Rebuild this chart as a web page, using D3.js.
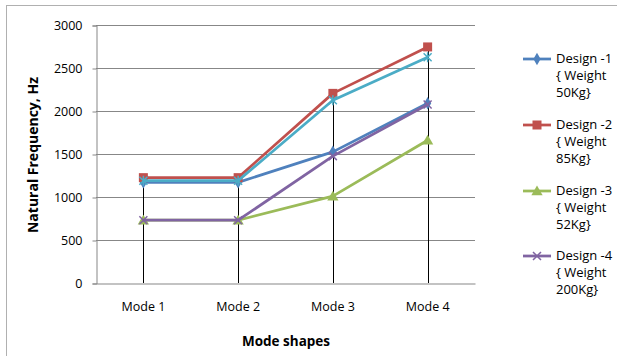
<!DOCTYPE html>
<meta charset="utf-8">
<script src="https://d3js.org/d3.v7.min.js"></script>
<style>
  body { margin: 0; background: #fff; }
  text { font-family: "Open Sans", sans-serif; fill: #000; }
</style>
<div id="chart"></div>
<script>
    const modes = ["Mode 1", "Mode 2", "Mode 3", "Mode 4"];
    const design1 = [1170, 1170, 1525, 2090];
    const design2 = [1225, 1225, 2205, 2745];
    const design3 = [730, 730, 1010, 1660];
    const design4 = [730, 730, 1475, 2075];
    const design5 = [1190, 1190, 2125, 2625];
    const yTicks = [0, 500, 1000, 1500, 2000, 2500, 3000];
    const legendLabels = [
        ["Design -1", "{ Weight", "50Kg}"],
        ["Design -2", "{ Weight", "85Kg}"],
        ["Design -3", "{ Weight", "52Kg}"],
        ["Design -4", "{ Weight", "200Kg}"]
    ];

    const series = [
        {values: design1, color: "#4F81BD", marker: "diamond"},
        {values: design2, color: "#C0504D", marker: "square"},
        {values: design3, color: "#9BBB59", marker: "triangle"},
        {values: design4, color: "#8064A2", marker: "x"},
        {values: design5, color: "#4BACC6", marker: "star"}
    ];

    const W = 617, H = 356;
    const plot = {left: 96, right: 475, top: 25, bottom: 283};

    const svg = d3.select("#chart").append("svg")
        .attr("width", W).attr("height", H);

    // outer chart border
    svg.append("rect")
        .attr("x", 6.5).attr("y", 5.5)
        .attr("width", 640).attr("height", 400)
        .attr("fill", "none").attr("stroke", "#b0b0b0");

    const x = d3.scaleBand().domain(modes).range([plot.left, plot.right]);
    const y = d3.scaleLinear().domain([0, 3000]).range([plot.bottom, plot.top]);

    // gridlines
    svg.append("g").selectAll("line").data(yTicks.slice(1)).join("line")
        .attr("x1", plot.left).attr("x2", plot.right)
        .attr("y1", d => Math.round(y(d)) + 0.5).attr("y2", d => Math.round(y(d)) + 0.5)
        .attr("stroke", "#878787");

    // y axis
    const yAxis = svg.append("g")
        .attr("transform", `translate(${plot.left + 0.5},0.5)`)
        .call(d3.axisLeft(y).tickValues(yTicks).tickFormat(d3.format("d")).tickSize(4).tickPadding(10));
    yAxis.select(".domain").attr("stroke", "#878787");
    yAxis.selectAll(".tick line").attr("stroke", "#878787");
    yAxis.selectAll("text").style("font-size", "12.5px").style("font-family", "Open Sans");

    // x axis
    const xAxis = svg.append("g")
        .attr("transform", `translate(0,${plot.bottom + 0.5})`)
        .call(d3.axisBottom(x).tickSize(0).tickPadding(19));
    xAxis.select(".domain").attr("stroke", "#878787");
    xAxis.selectAll("text").style("font-size", "12.5px").style("font-family", "Open Sans");

    const cx = d => x(d) + x.bandwidth() / 2;

    // drop lines
    svg.append("g").selectAll("line").data(modes).join("line")
        .attr("x1", d => Math.round(cx(d)) + 0.5).attr("x2", d => Math.round(cx(d)) + 0.5)
        .attr("y1", (d, i) => y(d3.max(series, s => s.values[i])))
        .attr("y2", plot.bottom)
        .attr("stroke", "#000").attr("stroke-width", 1);

    const line = d3.line().x((d, i) => cx(modes[i])).y(d => y(d));

    function drawMarker(g, type, color, px, py) {
        if (type === "diamond") {
            g.append("path").attr("d", d3.symbol(d3.symbolDiamond, 45)())
                .attr("transform", `translate(${px},${py})`).attr("fill", color);
        } else if (type === "square") {
            g.append("rect").attr("x", px - 4.5).attr("y", py - 4.5)
                .attr("width", 9).attr("height", 9).attr("fill", color);
        } else if (type === "triangle") {
            g.append("path").attr("d", d3.symbol(d3.symbolTriangle, 55)())
                .attr("transform", `translate(${px},${py + 1})`).attr("fill", color);
        } else if (type === "x") {
            g.append("path").attr("d", `M${px - 4},${py - 4}L${px + 4},${py + 4}M${px - 4},${py + 4}L${px + 4},${py - 4}`)
                .attr("stroke", color).attr("stroke-width", 1.5);
        } else if (type === "star") {
            g.append("path").attr("d", `M${px - 4},${py - 4}L${px + 4},${py + 4}M${px - 4},${py + 4}L${px + 4},${py - 4}M${px},${py - 5}L${px},${py + 5}`)
                .attr("stroke", color).attr("stroke-width", 1.5);
        }
    }

    series.forEach(s => {
        const g = svg.append("g");
        g.append("path").datum(s.values)
            .attr("d", line).attr("fill", "none")
            .attr("stroke", s.color).attr("stroke-width", 2.75)
            .attr("stroke-linejoin", "round");
        s.values.forEach((v, i) => drawMarker(g, s.marker, s.color, cx(modes[i]), y(v)));
    });

    // axis titles
    svg.append("text")
        .attr("x", 286).attr("y", 346)
        .attr("text-anchor", "middle")
        .style("font-size", "13.5px").style("font-weight", "bold")
        .text("Mode shapes");
    svg.append("text")
        .attr("transform", "translate(38,155) rotate(-90)")
        .attr("text-anchor", "middle")
        .style("font-size", "14px").style("font-weight", "bold")
        .text("Natural Frequency, Hz");

    // legend
    const legendY = [59, 125, 191, 256];
    legendLabels.forEach((lab, i) => {
        const s = series[i];
        const g = svg.append("g");
        g.append("line").attr("x1", 523).attr("x2", 551)
            .attr("y1", legendY[i]).attr("y2", legendY[i])
            .attr("stroke", s.color).attr("stroke-width", 2.75);
        drawMarker(g, s.marker, s.color, 537, legendY[i]);
        lab.forEach((t, j) => {
            g.append("text").attr("x", 556).attr("y", legendY[i] + 4 + j * 17)
                .style("font-size", "13px").text(t);
        });
    });
</script>
